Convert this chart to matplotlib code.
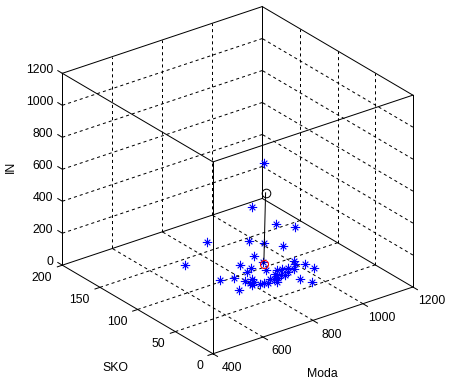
# -*- coding: utf-8 -*-
"""
3D scatter of Moda, SKO and IN with a marked stem
"""
import matplotlib
matplotlib.use('Agg')
import matplotlib.pyplot as plt
from matplotlib.path import Path
from mpl_toolkits.mplot3d import proj3d

#===========================================================
#               data
#===========================================================
a_moda = [940, 930, 1054, 1088, 800, 913, 941, 1011, 894, 713, 817, 894, 976, 962, 987,
          993, 940, 929, 911, 892, 869, 882, 893, 913, 860, 846, 835, 840, 815, 802, 786,
          913, 930, 748, 703, 792, 780, 766, 764, 762, 708, 833, 807, 863]
a_sko = [112, 124, 133, 120, 140, 122, 112, 110, 109, 141, 103, 97, 83, 78, 73,
         63, 72, 76, 78, 78, 73, 70, 68, 70, 66, 67, 68, 61, 64, 65, 66,
         55, 44, 88, 91, 78, 72, 72, 78, 68, 67, 93, 90, 83]
a_in = [600, 300, 100, 100, 100, 100, 100, 50, 50, 0, 50, 50, 50, 50, 50,
        50, 50, 50, 50, 50, 50, 50, 50, 50, 50, 50, 50, 50, 50, 50, 50,
        50, 50, 50, 50, 50, 50, 50, 50, 50, 50, 50, 50, 50]

# stem between the floor point and the marked point
a_stem_moda = [920, 924]
a_stem_sko = [105, 104]
a_stem_in = [0, 445]

a_xticks = [400, 600, 800, 1000, 1200]
a_yticks = [0, 50, 100, 150, 200]
a_zticks = [0, 200, 400, 600, 800, 1000, 1200]
xmin, xmax = a_xticks[0], a_xticks[-1]
ymin, ymax = a_yticks[0], a_yticks[-1]
zmin, zmax = a_zticks[0], a_zticks[-1]

#===========================================================
#               figure
#===========================================================
plt.rcParams['font.family'] = ['Liberation Sans', 'DejaVu Sans']
plt.rcParams['lines.scale_dashes'] = False
f_size = 8.8
f_lw = 0.72
t_dash = (0, (2.2, 2.2))

fig = plt.figure(figsize=(4.55, 3.89), dpi=100, facecolor='white')
ax = fig.add_axes([0.0690, 0.0067, 0.8826, 1.0324], projection='3d', proj_type='ortho')
ax.view_init(elev=26.3, azim=-127)
ax.set_box_aspect((1, 1, 0.855))
ax.set_xlim(xmin, xmax, view_margin=0)
ax.set_ylim(ymin, ymax, view_margin=0)
ax.set_zlim(zmin, zmax, view_margin=0)
ax.set_axis_off()
ax.computed_zorder = False
fig.canvas.draw()


def line3(l_x, l_y, l_z, **kw):
    ax.plot(l_x, l_y, l_z, color='k', lw=f_lw, **kw)


def label3(x, y, z, s, **kw):
    # projected by hand so the label stays a plain 2D text
    a, b, _ = proj3d.proj_transform(x, y, z, ax.get_proj())
    ax.text2D(a, b, s, transform=ax.transData, fontsize=f_size, va='center', **kw)


#===========================================================
#               grid on the three back planes
#===========================================================
for x in a_xticks[1:-1]:
    line3([x, x], [ymin, ymax], [zmin, zmin], ls=t_dash)
    line3([x, x], [ymax, ymax], [zmin, zmax], ls=t_dash)
for y in a_yticks[1:-1]:
    line3([xmin, xmax], [y, y], [zmin, zmin], ls=t_dash)
    line3([xmax, xmax], [y, y], [zmin, zmax], ls=t_dash)
for z in a_zticks[1:-1]:
    line3([xmin, xmax], [ymax, ymax], [z, z], ls=t_dash)
    line3([xmax, xmax], [ymin, ymax], [z, z], ls=t_dash)

#===========================================================
#               box edges
#===========================================================
for z in [zmin, zmax]:
    line3([xmin, xmax], [ymin, ymin], [z, z])
    line3([xmin, xmax], [ymax, ymax], [z, z])
    line3([xmin, xmin], [ymin, ymax], [z, z])
    line3([xmax, xmax], [ymin, ymax], [z, z])
for x in [xmin, xmax]:
    for y in [ymin, ymax]:
        line3([x, x], [y, y], [zmin, zmax])

#===========================================================
#               ticks and labels
#===========================================================
for x in a_xticks:
    line3([x, x], [ymin, ymin - 6], [zmin, zmin])
    label3(x, ymin - 25, zmin - 20, str(x), ha='center')
for y in a_yticks:
    line3([xmin, xmin - 20], [y, y], [zmin, zmin])
    label3(xmin - 40, y, zmin - 58, str(y), ha='right')
for z in a_zticks:
    line3([xmin, xmin], [ymax, ymax + 6], [z, z])
    label3(xmin, ymax + 12, z - 11, str(z), ha='right')

fig.text(322.7 / 455, 1 - 374 / 389, 'Moda', fontsize=f_size, ha='center', va='center')
fig.text(115 / 455, 1 - 368 / 389, 'SKO', fontsize=f_size, ha='center', va='center')
fig.text(10.5 / 455, 1 - 167 / 389, 'IN', fontsize=f_size, ha='center', va='center', rotation=90)

#===========================================================
#               points
#===========================================================
m_star = Path([(-1, 0), (1, 0), (0, -1), (0, 1), (-.6, -.6), (.6, .6), (-.6, .6), (.6, -.6)],
              [Path.MOVETO, Path.LINETO] * 4)
ax.plot(a_moda, a_sko, a_in, ls='none', marker=m_star, ms=6.8, mew=0.8,
        color=(0, 0, 1))
line3(a_stem_moda, a_stem_sko, a_stem_in)
ax.plot(a_stem_moda[:1], a_stem_sko[:1], a_stem_in[:1], ls='none', marker='o', ms=5.8,
        mew=0.72, mfc='none', color='r')
ax.plot(a_stem_moda[1:], a_stem_sko[1:], a_stem_in[1:], ls='none', marker='o', ms=6.2,
        mew=0.72, mfc='none', color='k')

fig.savefig('out.png', dpi=100)
